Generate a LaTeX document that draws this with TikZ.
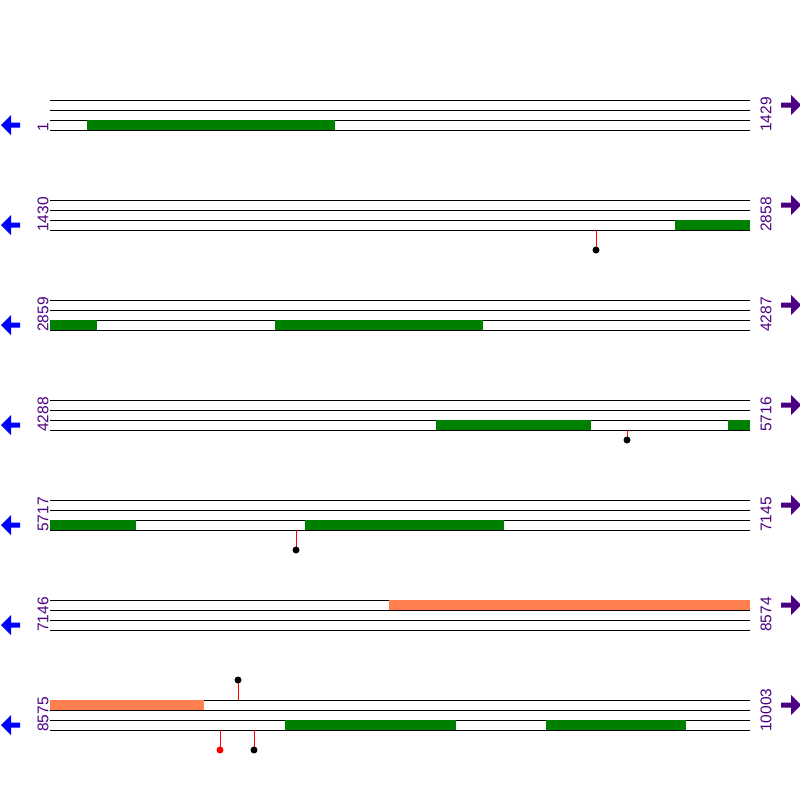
\documentclass[tikz,border=0pt]{standalone}
\usepackage{fontspec}
\setmainfont{Liberation Sans}
\definecolor{exongreen}{HTML}{008000}
\definecolor{utrcoral}{HTML}{FF7F50}
\definecolor{labpurple}{HTML}{4B0082}
\tikzset{
  seqline/.style={line width=1pt, black},
  cds/.style={fill=exongreen, draw=none},
  utr/.style={fill=utrcoral, draw=none},
  stem/.style={line width=1pt, red},
  poslab/.style={rotate=90, anchor=west, inner sep=0pt, text=labpurple, font=\fontsize{15.5}{15.5}\selectfont},
}
\def\backarrow(#1){\fill[blue] ($(#1)$) -- ++(10,-10) -- ++(0,7.5) -- ++(9,0) -- ++(0,5) -- ++(-9,0) -- ++(0,7.5) -- cycle;}
\def\fwdarrow(#1){\fill[labpurple] ($(#1)$) -- ++(-10,-10) -- ++(0,7.5) -- ++(-10,0) -- ++(0,5) -- ++(10,0) -- ++(0,7.5) -- cycle;}
\usetikzlibrary{calc}
\begin{document}
\begin{tikzpicture}[x=1pt,y=-1pt]
			%%%%% START %%%%%
			\useasboundingbox[fill=white] (0,0) rectangle (800,800);
			
			% four strands per row
			\foreach \r in {100,200,...,700} {
				\foreach \d in {0,10,20,30}
					\draw[seqline] (50,\r+\d) -- (750,\r+\d);
				\backarrow(1,\r+25)
				\fwdarrow(801,\r+5)
			}
			
			% position labels
			\node[poslab] (s1) at (43,132) {1};
			\node[poslab] (e1) at (766,132) {1429};
			\node[poslab] (s2) at (43,232) {1430};
			\node[poslab] (e2) at (766,232) {2858};
			\node[poslab] (s3) at (43,332) {2859};
			\node[poslab] (e3) at (766,332) {4287};
			\node[poslab] (s4) at (43,432) {4288};
			\node[poslab] (e4) at (766,432) {5716};
			\node[poslab] (s5) at (43,532) {5717};
			\node[poslab] (e5) at (766,532) {7145};
			\node[poslab] (s6) at (43,632) {7146};
			\node[poslab] (e6) at (766,632) {8574};
			\node[poslab] (s7) at (43,732) {8575};
			\node[poslab] (e7) at (766,732) {10003};
			
			% row 1
			\fill[cds] (87,120) rectangle (335,130);
			
			% row 2
			\fill[cds] (675,220) rectangle (750,230);
			\draw[stem] (596,230) -- (596,250);
			\fill[black] (596,250) circle (3.5);
			
			% row 3
			\fill[cds] (50,320) rectangle (97,330);
			\fill[cds] (275,320) rectangle (483,330);
			
			% row 4
			\fill[cds] (436,420) rectangle (591,430);
			\fill[cds] (728,420) rectangle (750,430);
			\draw[stem] (627,430) -- (627,440);
			\fill[black] (627,440) circle (3.5);
			
			% row 5
			\fill[cds] (50,520) rectangle (136,530);
			\fill[cds] (305,520) rectangle (504,530);
			\draw[stem] (296,530) -- (296,550);
			\fill[black] (296,550) circle (3.5);
			
			% row 6
			\fill[utr] (389,600) rectangle (750,610);
			
			% row 7
			\fill[utr] (50,700) rectangle (204,710);
			\fill[cds] (285,720) rectangle (456,730);
			\fill[cds] (546,720) rectangle (686,730);
			\draw[stem] (238,700) -- (238,680);
			\fill[black] (238,680) circle (3.5);
			\draw[stem] (220,730) -- (220,750);
			\fill[red] (220,750) circle (3.5);
			\draw[stem] (254,730) -- (254,750);
			\fill[black] (254,750) circle (3.5);
			
			%%%%% END %%%%%
		\end{tikzpicture}
\end{document}
